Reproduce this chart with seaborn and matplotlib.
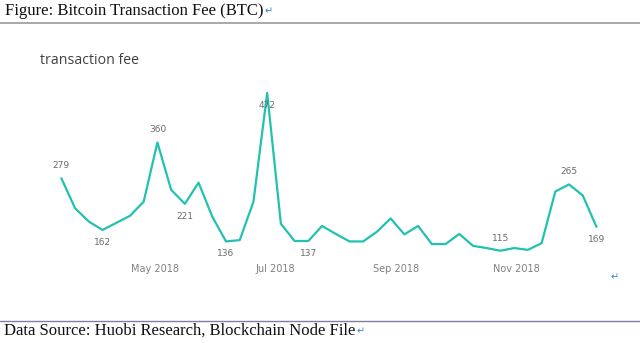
import numpy as np
import pandas as pd
import matplotlib
matplotlib.use("Agg")
import matplotlib.pyplot as plt
import matplotlib.dates as mdates
import seaborn as sns

# ---- data ----
start_date = "2018-03-14"
fees = [279, 211, 181, 162, 178, 194, 226, 360, 253, 221,
        269, 192, 136, 139, 226, 472, 176, 137, 137, 171,
        153, 136, 136, 158, 188, 152, 171, 130, 130, 153,
        126, 121, 115, 121, 117, 132, 249, 265, 240, 169]
labeled_idx = [0, 3, 7, 9, 12, 15, 18, 32, 37, 39]
label_pos = ["above", "below", "above", "below", "below", "below", "below", "above", "above", "below"]
tick_dates = ["2018-05-01", "2018-07-01", "2018-09-01", "2018-11-01"]
title_text = "Figure: Bitcoin Transaction Fee (BTC)"
chart_title = "transaction fee"
source_text = "Data Source: Huobi Research, Blockchain Node File"

dates = pd.date_range(start_date, periods=len(fees), freq="7D")
df = pd.DataFrame({"date": dates, "fee": fees})

sns.set_theme(style="white")
plt.rcParams["font.family"] = ["DejaVu Sans"]

W, H = 640, 343
fig = plt.figure(figsize=(W / 100, H / 100), dpi=100)

def fx(px):
    return px / W

def fy(py):
    return 1 - py / H

# axes in pixel box
ax_left, ax_right, ax_top, ax_bottom = 30, 620, 85, 260
ax = fig.add_axes([fx(ax_left), fy(ax_bottom), (ax_right - ax_left) / W, (ax_bottom - ax_top) / H])

color = "#22C1B0"
sns.lineplot(data=df, x="date", y="fee", ax=ax, color=color, linewidth=1.6)

ax.set_xlim(dates[0] - pd.Timedelta(days=16), dates[-1] + pd.Timedelta(days=12))
ax.set_ylim(94, 490)

ax.set_xticks(pd.to_datetime(tick_dates))
ax.xaxis.set_major_formatter(mdates.DateFormatter("%b %Y"))
ax.tick_params(axis="x", length=0, pad=3, labelsize=7, labelcolor="#808080")
ax.set_yticks([])
ax.set_xlabel("")
ax.set_ylabel("")
for s in ax.spines.values():
    s.set_visible(False)

for i, pos in zip(labeled_idx, label_pos):
    off = 9 if pos == "above" else -9
    ax.annotate(str(fees[i]), (dates[i], fees[i]), xytext=(0, off), textcoords="offset points",
                ha="center", va="center", fontsize=6.5, color="#6b6b6b")

# chart title
fig.text(fx(40), fy(60), chart_title, fontsize=10.2, color="#404040", family=["Open Sans"], va="center", ha="left")

# document title and lines
t = fig.text(fx(5), fy(11), title_text, fontsize=12, family=["Liberation Serif"], color="#111111",
             va="center", ha="left")
fig.canvas.draw()
bb = t.get_window_extent()
fig.text(bb.x1 / W + 0.002, fy(11), "\u21b5", fontsize=7, color="#3b7ddd", va="center", ha="left")

fig.add_artist(plt.Line2D([0, 1], [fy(22.5), fy(22.5)], color="#a8a8a8", linewidth=1.4))
fig.add_artist(plt.Line2D([0, 1], [fy(321), fy(321)], color="#7f7fa0", linewidth=1.0))

s = fig.text(fx(4), fy(331), source_text, fontsize=12, family=["Liberation Serif"], color="#111111",
             va="center", ha="left")
fig.canvas.draw()
bb2 = s.get_window_extent()
fig.text(bb2.x1 / W + 0.002, fy(331), "\u21b5", fontsize=7, color="#3b7ddd", va="center", ha="left")

fig.text(fx(615), fy(277), "\u21b5", fontsize=7, color="#3b7ddd", va="center", ha="center")

fig.savefig("out.png", dpi=100)
